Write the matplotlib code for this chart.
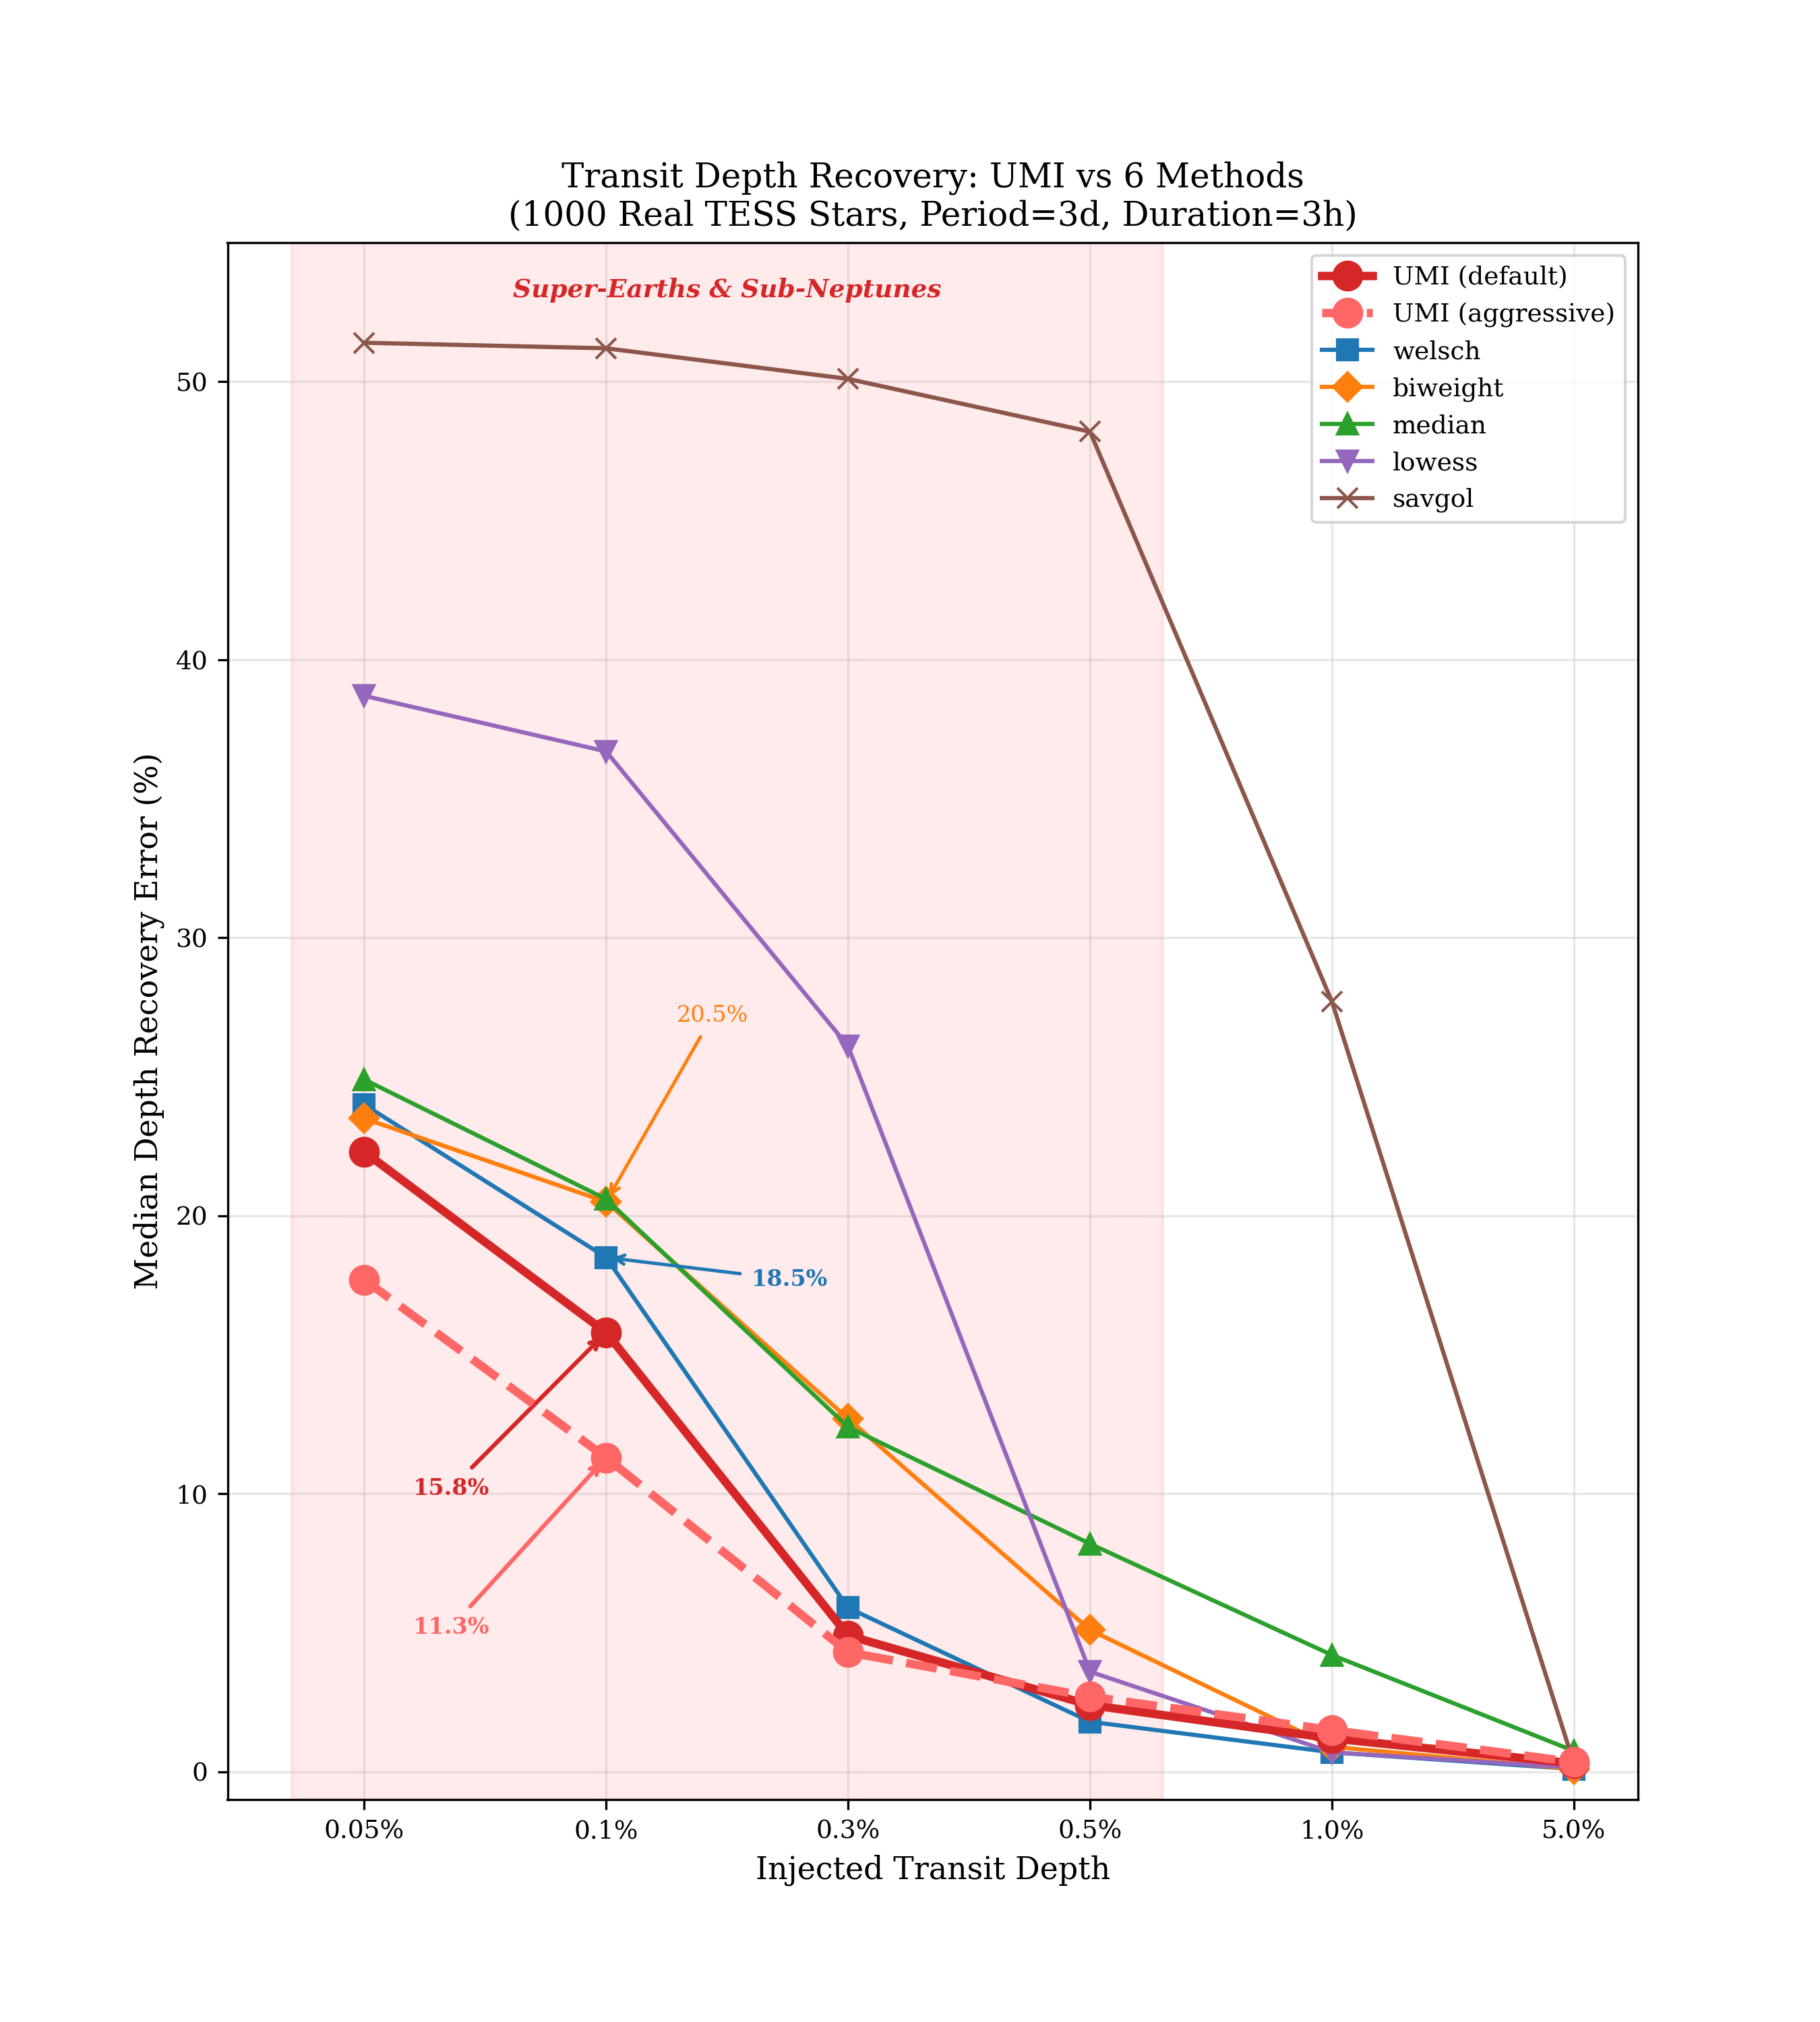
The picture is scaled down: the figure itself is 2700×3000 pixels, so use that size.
import matplotlib
matplotlib.use("Agg")
import matplotlib.pyplot as plt
import numpy as np

plt.rcParams['font.family'] = 'serif'
plt.rcParams['font.serif'] = ['DejaVu Serif']

# Data
depth_labels = ["0.05%", "0.1%", "0.3%", "0.5%", "1.0%", "5.0%"]
umi_default = [22.3, 15.8, 4.9, 2.4, 1.2, 0.3]
umi_aggressive = [17.7, 11.3, 4.3, 2.7, 1.5, 0.35]
welsch = [24.0, 18.5, 5.9, 1.8, 0.7, 0.1]
biweight = [23.5, 20.5, 12.7, 5.1, 0.9, 0.1]
median = [24.9, 20.6, 12.4, 8.2, 4.2, 0.75]
lowess = [38.7, 36.7, 26.1, 3.6, 0.7, 0.15]
savgol = [51.4, 51.2, 50.1, 48.2, 27.7, 0.3]

x = np.arange(len(depth_labels))

fig, ax = plt.subplots(figsize=(9, 10))

# highlight small-planet regime
ax.axvspan(-0.3, 3.3, color='red', alpha=0.08)
ax.text(1.5, 53.3, "Super-Earths & Sub-Neptunes", ha='center', va='center',
        fontsize=9, fontstyle='italic', fontweight='bold', color='#d62728')

ax.plot(x, umi_default, color='#d62728', marker='o', lw=3, ms=10,
        label='UMI (default)', zorder=5)
ax.plot(x, umi_aggressive, color='#ff6666', marker='o', lw=3, ms=10, ls='--',
        label='UMI (aggressive)', zorder=5)
ax.plot(x, welsch, color='#1f77b4', marker='s', lw=1.5, ms=7, label='welsch')
ax.plot(x, biweight, color='#ff7f0e', marker='D', lw=1.5, ms=7, label='biweight')
ax.plot(x, median, color='#2ca02c', marker='^', lw=1.5, ms=7, label='median')
ax.plot(x, lowess, color='#9467bd', marker='v', lw=1.5, ms=7, label='lowess')
ax.plot(x, savgol, color='#8c564b', marker='x', lw=1.5, ms=7, label='savgol')

# callouts at 0.1% depth
ax.annotate(f"{umi_default[1]:.1f}%", xy=(x[1], umi_default[1]), xytext=(0.36, 10.2),
            ha='center', va='center', fontsize=8, fontweight='bold', color='#d62728',
            arrowprops=dict(arrowstyle='->', color='#d62728', lw=1.5))
ax.annotate(f"{umi_aggressive[1]:.1f}%", xy=(x[1], umi_aggressive[1]), xytext=(0.36, 5.2),
            ha='center', va='center', fontsize=8, fontweight='bold', color='#ff6666',
            arrowprops=dict(arrowstyle='->', color='#ff6666', lw=1.5))
ax.annotate(f"{welsch[1]:.1f}%", xy=(x[1], welsch[1]), xytext=(1.6, 17.7),
            ha='left', va='center', fontsize=8, fontweight='bold', color='#1f77b4',
            arrowprops=dict(arrowstyle='->', color='#1f77b4', lw=1.2))
ax.annotate(f"{biweight[1]:.1f}%", xy=(x[1], biweight[1]), xytext=(1.44, 27.2),
            ha='center', va='center', fontsize=8, color='#ff7f0e',
            arrowprops=dict(arrowstyle='->', color='#ff7f0e', lw=1.2))

ax.set_xticks(x)
ax.set_xticklabels(depth_labels)
ax.tick_params(labelsize=9)
ax.set_ylim(-1, 55)
ax.set_xlabel("Injected Transit Depth", fontsize=11)
ax.set_ylabel("Median Depth Recovery Error (%)", fontsize=11)
ax.set_title("Transit Depth Recovery: UMI vs 6 Methods\n"
             "(1000 Real TESS Stars, Period=3d, Duration=3h)", fontsize=12)
ax.grid(True, alpha=0.3)
ax.legend(loc='upper right', fontsize=9)

plt.savefig("out.png", dpi=300)
